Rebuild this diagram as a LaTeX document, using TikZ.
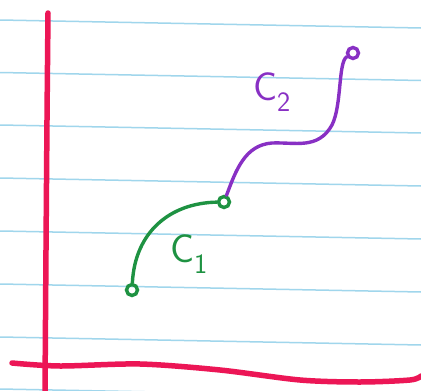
\documentclass[tikz,border=0pt]{standalone}
\usetikzlibrary{positioning}
\definecolor{rulecol}{RGB}{160,214,236}
\definecolor{axiscol}{RGB}{236,22,86}
\definecolor{greenink}{RGB}{30,146,66}
\definecolor{purpleink}{RGB}{136,48,196}

\begin{document}
\begin{tikzpicture}[
    x=1pt, y=-1pt,
    rule/.style = {rulecol, line width=1.5pt},
    axis/.style = {axiscol, line width=5.5pt, line cap=round},
    curve/.style = {line width=3.4pt, line cap=round},
    knot/.style = {circle, draw=#1, line width=3.4pt, inner sep=0pt, minimum size=11pt},
    label/.style = {font=\fontsize{40}{40}\selectfont\sffamily, inner sep=0pt},
]

%% ---- Page and ruled lines ----
\fill[white] (0,0) rectangle (421,391);
\useasboundingbox (0,0) rectangle (421,391);
\foreach \y in {20,72.5,125,178,231,284,337,389}
    \draw[rule] (0,\y) -- (421,\y+8);

%% ---- Axes ----
\draw[axis] plot[smooth] coordinates {(48,13) (47,120) (46,250) (45,391)};
\draw[axis] plot[smooth] coordinates {(12,363) (60,366) (140,364) (220,370)
    (300,380) (360,382) (410,380) (421,376)};

%% ---- End points ----
\node[knot=greenink]  (start) at (132,290) {};
\node[knot=greenink]  (join)  at (224,202) {};
\node[knot=purpleink] (stop)  at (353,53)  {};

%% ---- Curves ----
\draw[curve, greenink] (start) .. controls (135,232) and (170,203) .. (join);
\draw[curve, purpleink] (join) .. controls (236,170) and (245,145) .. (272,143)
    .. controls (295,142) and (318,150) .. (332,125)
    .. controls (342,105) and (338,62) .. (stop);

%% ---- Labels ----
\node[label, text=purpleink] (lblc2) at (272,92) {C\textsubscript{2}};
\node[label, text=greenink]  (lblc1) at (189,254) {C\textsubscript{1}};

\end{tikzpicture}
\end{document}
